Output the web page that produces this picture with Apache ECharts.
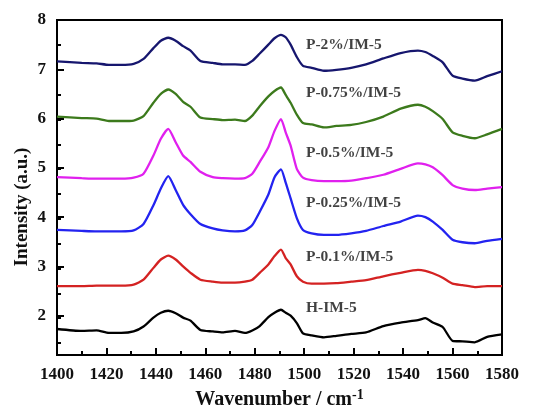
<!DOCTYPE html>
<html>
<head>
<meta charset="utf-8">
<script src="https://cdn.jsdelivr.net/npm/echarts@6/dist/echarts.min.js"></script>
<style>html,body{margin:0;padding:0;background:#fff}#c{width:545px;height:415px}</style>
</head>
<body>
<div id="c"></div>
<script>
var wavenumber = [1400,1410,1416,1421,1426,1431,1435,1439,1442,1445,1448,1451,1454,1458,1463,1467,1472,1476,1479,1482,1485.5,1488,1490.6,1492.5,1494.5,1497,1499.5,1503,1508,1513,1519,1525,1532,1539,1546,1549,1552,1556,1560,1564,1569,1574,1580];
var p2 = [7.16,7.13,7.12,7.09,7.09,7.11,7.21,7.43,7.58,7.64,7.58,7.47,7.38,7.17,7.13,7.10,7.10,7.09,7.17,7.32,7.50,7.63,7.70,7.65,7.50,7.25,7.07,7.03,6.97,6.99,7.03,7.10,7.22,7.33,7.38,7.35,7.27,7.14,6.87,6.81,6.77,6.86,6.96];
var p075 = [6.04,6.01,6.00,5.95,5.95,5.96,6.05,6.32,6.50,6.59,6.50,6.34,6.24,6.02,5.99,5.97,5.98,5.95,6.06,6.25,6.45,6.56,6.63,6.48,6.32,6.08,5.91,5.88,5.82,5.85,5.87,5.93,6.04,6.20,6.28,6.24,6.15,5.99,5.72,5.65,5.60,5.68,5.79];
var p05 = [4.81,4.79,4.78,4.78,4.78,4.80,4.88,5.25,5.59,5.79,5.52,5.25,5.12,4.92,4.81,4.79,4.78,4.79,4.88,5.12,5.42,5.75,5.99,5.72,5.45,4.98,4.80,4.75,4.73,4.73,4.74,4.79,4.86,4.98,5.09,5.07,5.01,4.85,4.65,4.58,4.55,4.58,4.61];
var p025 = [3.74,3.72,3.71,3.71,3.71,3.73,3.86,4.24,4.58,4.83,4.55,4.25,4.06,3.86,3.77,3.73,3.71,3.73,3.84,4.11,4.46,4.81,4.97,4.70,4.38,3.98,3.74,3.67,3.64,3.64,3.67,3.72,3.82,3.91,4.03,4.00,3.91,3.74,3.54,3.49,3.47,3.52,3.56];
var p01 = [2.60,2.60,2.61,2.61,2.61,2.63,2.73,2.97,3.14,3.22,3.14,3.00,2.87,2.73,2.69,2.67,2.67,2.69,2.73,2.87,3.04,3.21,3.34,3.17,3.04,2.80,2.69,2.65,2.65,2.66,2.69,2.72,2.80,2.87,2.93,2.91,2.86,2.77,2.65,2.62,2.58,2.60,2.60];
var him5 = [1.73,1.69,1.70,1.65,1.65,1.68,1.78,1.96,2.06,2.10,2.05,1.96,1.90,1.71,1.68,1.66,1.69,1.65,1.70,1.79,1.97,2.06,2.12,2.06,2.00,1.85,1.64,1.60,1.56,1.59,1.63,1.66,1.79,1.86,1.91,1.95,1.86,1.77,1.49,1.48,1.46,1.57,1.62];

var seriesNames = ['P-2%/IM-5','P-0.75%/IM-5','P-0.5%/IM-5','P-0.25%/IM-5','P-0.1%/IM-5','H-IM-5'];
var seriesValues = [p2, p075, p05, p025, p01, him5];
var seriesColors = ['#16166e','#3c7a1c','#e020ee','#2323f0','#d42222','#000000'];
var labelX = 1500.7;
var labelY = [7.50, 6.51, 5.30, 4.29, 3.19, 2.15];

var yMajorTicks = [2,3,4,5,6,7,8];
var yMin = 1.2, yMax = 8;
var yMinorStart = 1.5; // first minor tick value

var font = '"Liberation Serif","Times New Roman",serif';
var chart = echarts.init(document.getElementById('c'));

function pairs(ys){ return wavenumber.map(function(x,i){ return [x, ys[i]]; }); }

var gridTop = 20, gridBottom = 57, gridH = 415 - gridTop - gridBottom;
var pxPerUnit = gridH / (yMax - yMin);
var tickGridBottom = gridBottom + (yMinorStart - yMin) * pxPerUnit;

var series = seriesValues.map(function(v,i){
  return {
    type:'line', name: seriesNames[i], data: pairs(v), showSymbol:false, smooth:0.2,
    lineStyle:{color:seriesColors[i], width:2.3}, z:3, silent:true
  };
});
series.push({
  type:'scatter', symbolSize:0, silent:true,
  data: seriesNames.map(function(n,i){ return {value:[labelX, labelY[i]], name:n}; }),
  label:{show:true, position:'inside', align:'left', verticalAlign:'middle',
    formatter:function(p){return p.name;}, color:'#111', fontFamily:font, fontWeight:'bold', fontSize:15.5}
});

var option = {
  animation:false,
  grid:[
    {left:57, right:43, top:gridTop, bottom:gridBottom, containLabel:false, show:true, borderColor:'#000', borderWidth:2, backgroundColor:'transparent'},
    {left:57, right:43, top:gridTop, bottom:tickGridBottom, containLabel:false, show:false}
  ],
  xAxis:[{
    type:'value', gridIndex:0, min:1400, max:1580, interval:20,
    axisLine:{show:true, lineStyle:{color:'#000', width:2}},
    axisTick:{show:true, inside:true, length:7, lineStyle:{color:'#000', width:2}},
    minorTick:{show:true, splitNumber:2, length:4, lineStyle:{color:'#000', width:2}},
    splitLine:{show:false},
    axisLabel:{color:'#111', fontFamily:font, fontWeight:'bold', fontSize:17, margin:11,
      formatter:function(v){return String(v);}},
    name:'{a|Wavenumber / cm}{b|-1}', nameLocation:'middle', nameGap:22,
    nameTextStyle:{rich:{
      a:{fontFamily:font, fontWeight:'bold', fontSize:20, color:'#111', lineHeight:22, verticalAlign:'bottom'},
      b:{fontFamily:font, fontWeight:'bold', fontSize:14, color:'#111', lineHeight:22, verticalAlign:'top'}
    }}
  },{
    type:'value', gridIndex:1, min:1400, max:1580, show:false
  }],
  yAxis:[{
    type:'value', gridIndex:0, position:'left', min:yMin, max:yMax,
    axisLine:{show:true, onZero:false, lineStyle:{color:'#000', width:2}},
    axisTick:{show:true, inside:true, length:7, lineStyle:{color:'#000', width:2}},
    axisLabel:{customValues:yMajorTicks, color:'#111', fontFamily:font, fontWeight:'bold', fontSize:17, margin:11},
    splitLine:{show:false}
  },{
    type:'value', gridIndex:1, position:'left', min:yMinorStart, max:yMax, interval:0.5,
    axisLine:{show:false, onZero:false},
    axisTick:{show:true, inside:true, length:4, lineStyle:{color:'#000', width:2}},
    axisLabel:{show:false},
    splitLine:{show:false}
  }],
  graphic:[{
    type:'text', x:22, y:207, rotation:Math.PI/2,
    style:{text:'Intensity (a.u.)', fill:'#111', font:'bold 19px ' + font, textAlign:'center', textVerticalAlign:'middle'}
  }],
  series: series
};
chart.setOption(option);
</script>
</body>
</html>
